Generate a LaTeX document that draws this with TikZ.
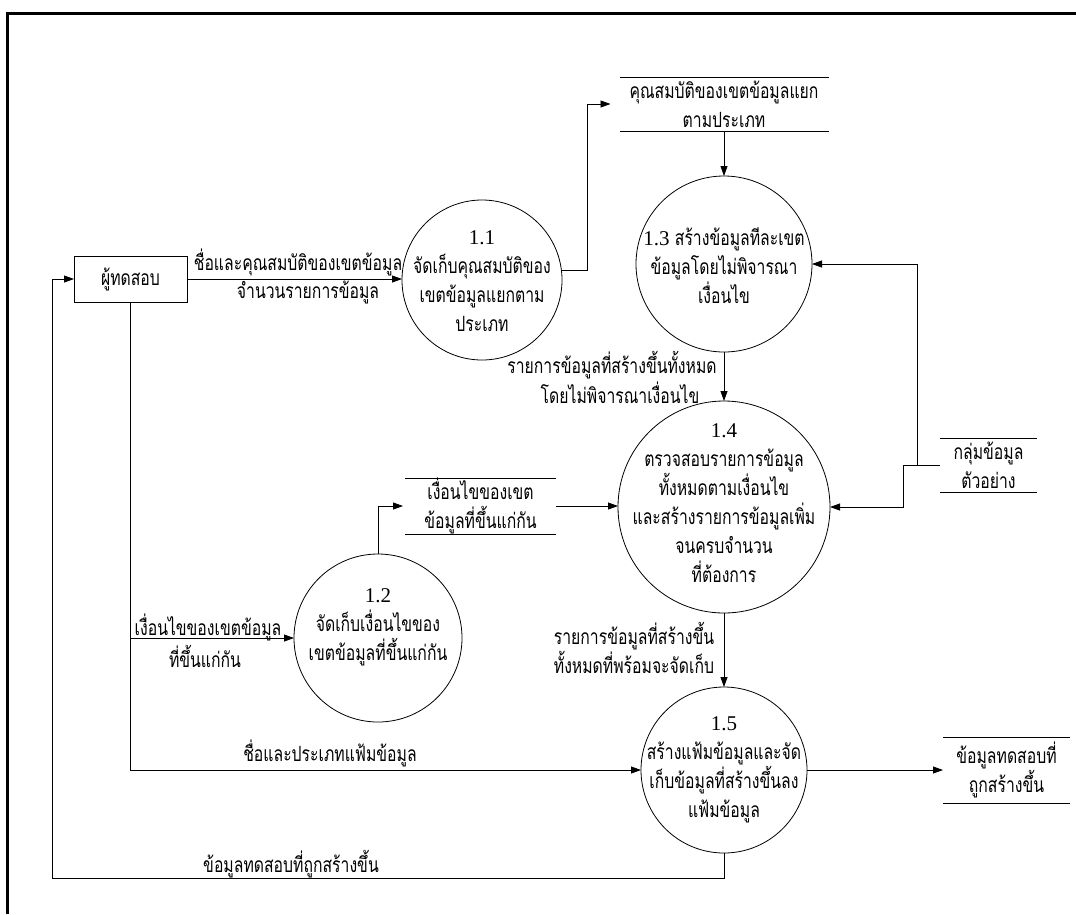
\documentclass[tikz,border=0pt]{standalone}
\usepackage{fontspec}
\setmainfont{Liberation Serif}
\newfontfamily\thai[Script=Thai,FakeStretch=0.75]{Loma}
\newfontfamily\numfont{Liberation Serif}
\usetikzlibrary{arrows.meta}

\begin{document}
\begin{tikzpicture}[x=1pt,y=-1pt,
  every node/.style={inner sep=0pt, outer sep=0pt},
  txt/.style={font=\thai\fontsize{21}{29}\selectfont, align=center},
  proc/.style={draw, circle, line width=0.8pt},
  extbox/.style={draw, line width=0.8pt, txt},
  store/.style={txt},
  flow/.style={line width=0.8pt, -{Triangle[length=10pt,width=7pt]}},
  storeedge/.style={line width=0.8pt},
]
\useasboundingbox (0,0) rectangle (1076,914);

% page frame
\draw[line width=3pt] (7,914) -- (7,13) -- (1076,13);

% external entity
\node[extbox, minimum width=113pt, minimum height=46pt] (tester) at (130.5,279) {ผู้ทดสอบ};

% processes
\node[proc, minimum size=160pt] (p11) at (482,280) {};
\node[proc, minimum size=176pt] (p13) at (724,264) {};
\node[proc, minimum size=212pt] (p14) at (724,507) {};
\node[proc, minimum size=168pt] (p12) at (378,638) {};
\node[proc, minimum size=166pt] (p15) at (724,770) {};

\node[txt] (t11) at (482,281) {{\numfont 1.1}\\จัดเก็บคุณสมบัติของ\\เขตข้อมูลแยกตาม\\ประเภท};
\node[txt] (t13) at (724,266) {{\numfont 1.3} สร้างข้อมูลทีละเขต\\ข้อมูลโดยไม่พิจารณา\\เงื่อนไข};
\node[txt] (t14) at (724,503) {{\numfont 1.4}\\ตรวจสอบรายการข้อมูล\\ทั้งหมดตามเงื่อนไข\\และสร้างรายการข้อมูลเพิ่ม\\จนครบจำนวน\\ที่ต้องการ};
\node[txt] (t12) at (378,627) {{\numfont 1.2}\\จัดเก็บเงื่อนไขของ\\เขตข้อมูลที่ขึ้นแก่กัน};
\node[txt] (t15) at (724,770) {{\numfont 1.5}\\สร้างแฟ้มข้อมูลและจัด\\เก็บข้อมูลที่สร้างขึ้นลง\\แฟ้มข้อมูล};

% data stores
\node[store, minimum width=209pt, minimum height=54pt] (s1) at (724,104) {คุณสมบัติของเขตข้อมูลแยก\\ตามประเภท};
\node[store, minimum width=151pt, minimum height=54pt] (s2) at (480.5,506) {เงื่อนไขของเขต\\ข้อมูลที่ขึ้นแก่กัน};
\node[store, minimum width=127pt, minimum height=66pt] (s3) at (1006.5,770) {ข้อมูลทดสอบที่\\ถูกสร้างขึ้น};
\node[store, minimum width=97pt, minimum height=54pt] (s4) at (988.5,465) {กลุ่มข้อมูล\\ตัวอย่าง};
\foreach \s in {s1,s2,s3,s4}{
  \draw[storeedge] (\s.north west) -- (\s.north east);
  \draw[storeedge] (\s.south west) -- (\s.south east);
}

% flows
\draw[flow] (tester.east) -- (tester.east -| p11.west);
\draw[flow] (p11.7) -- ++(25.6,0) |- ([xshift=-9pt]s1.west);
\draw[flow] (s1.south) -- (p13.north);
\draw[flow] (p13.south) -- (p14.north);
\draw[flow] (s4.west) -- ++(-23,0) |- (p13.east);
\draw[flow] (s4.west) -- ++(-37,0) |- (p14.east);
\draw[flow] (tester.south) |- (p15.west);
\draw[flow] (tester.south |- p12.west) -- (p12.west);
\draw[flow] (p12.north) |- ([xshift=-2pt]s2.west);
\draw[flow] (s2.east) -- (s2.east -| p14.west);
\draw[flow] (p14.south) -- (p15.north);
\draw[flow] (p15.east) -- (s3.west);
\draw[flow] (p15.south) -- ++(0,25) -| ([xshift=-22pt]tester.west) -- (tester.west);

% flow labels
\node[txt] (l1a) at (298,262) {ชื่อและคุณสมบัติของเขตข้อมูล};
\node[txt] (l1b) at (308,292) {จำนวนรายการข้อมูล};
\node[txt] (l2a) at (612,365) {รายการข้อมูลที่สร้างขึ้นทั้งหมด};
\node[txt] (l2b) at (620,393) {โดยไม่พิจารณาเงื่อนไข};
\node[txt] (l3a) at (208,627) {เงื่อนไขของเขตข้อมูล};
\node[txt] (l3b) at (205,656) {ที่ขึ้นแก่กัน};
\node[txt] (l4a) at (634,636) {รายการข้อมูลที่สร้างขึ้น};
\node[txt] (l4b) at (634,662) {ทั้งหมดที่พร้อมจะจัดเก็บ};
\node[txt] (l5) at (330,753) {ชื่อและประเภทแฟ้มข้อมูล};
\node[txt] (l6) at (291,864) {ข้อมูลทดสอบที่ถูกสร้างขึ้น};
\end{tikzpicture}
\end{document}
